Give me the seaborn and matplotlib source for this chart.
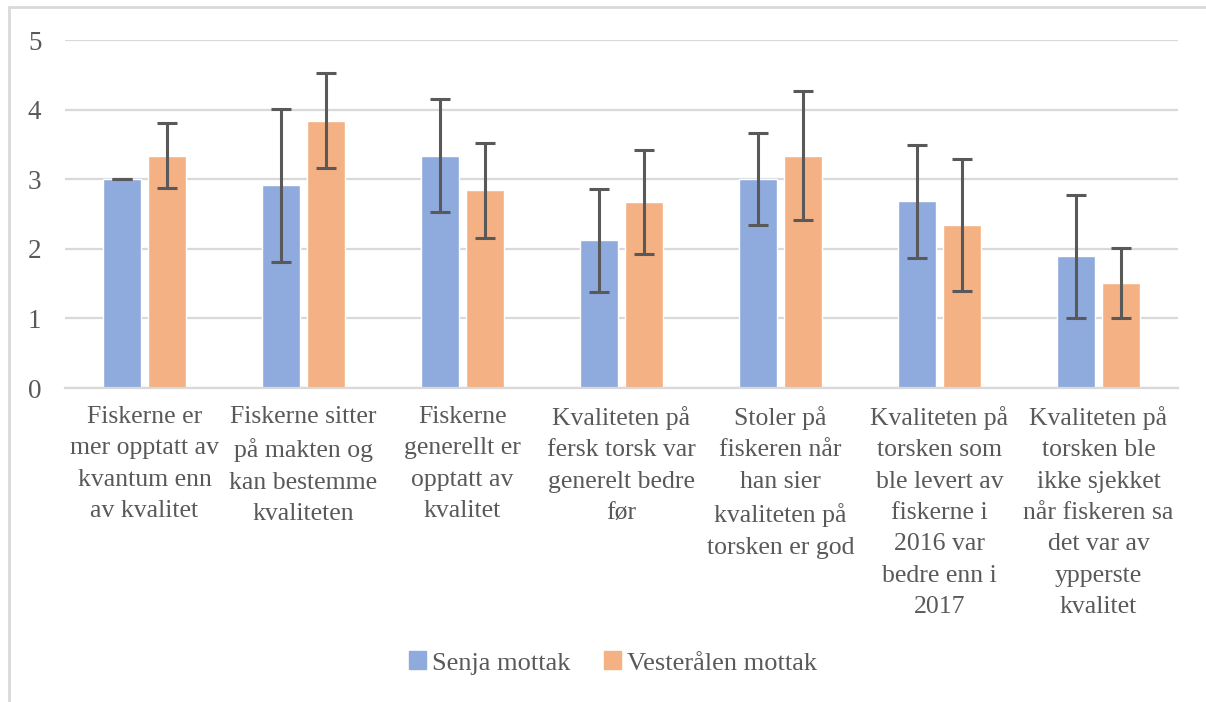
import numpy as np
import pandas as pd
import seaborn as sns
import matplotlib.pyplot as plt
from matplotlib.lines import Line2D

# Chart data
categories = [
    "Fiskerne er\nmer opptatt av\nkvantum enn\nav kvalitet",
    "Fiskerne sitter\npå makten og\nkan bestemme\nkvaliteten",
    "Fiskerne\ngenerellt er\nopptatt av\nkvalitet",
    "Kvaliteten på\nfersk torsk var\ngenerelt bedre\nfør",
    "Stoler på\nfiskeren når\nhan sier\nkvaliteten på\ntorsken er god",
    "Kvaliteten på\ntorsken som\nble levert av\nfiskerne i\n2016 var\nbedre enn i\n2017",
    "Kvaliteten på\ntorsken ble\nikke sjekket\nnår fiskeren sa\ndet var av\nypperste\nkvalitet",
]
series = ["Senja mottak", "Vesterålen mottak"]
senja_mean = [3.00, 2.91, 3.34, 2.12, 3.00, 2.68, 1.89]
senja_err = [0.00, 1.10, 0.81, 0.74, 0.66, 0.81, 0.88]
vest_mean = [3.34, 3.84, 2.84, 2.67, 3.34, 2.34, 1.51]
vest_err = [0.47, 0.68, 0.68, 0.75, 0.93, 0.95, 0.50]

colors = ["#8faadc", "#f4b183"]
grey_text = "#595959"
grid_col = "#d9d9d9"

df = pd.DataFrame({
    "cat": categories * 2,
    "series": [series[0]] * 7 + [series[1]] * 7,
    "mean": senja_mean + vest_mean,
    "err": senja_err + vest_err,
})

sns.set_style("white")
plt.rcParams["font.family"] = ["Liberation Serif", "DejaVu Serif"]

fig = plt.figure(figsize=(12.06, 7.02), dpi=100)
ax = fig.add_axes([65 / 1206, 1 - 388 / 702, (1178 - 65) / 1206, 348 / 702])

sns.barplot(data=df, x="cat", y="mean", hue="series", palette=colors,
            width=0.57, gap=0.16, errorbar=None, saturation=1,
            legend=False, ax=ax)

# error bars on top of each bar, in hue order
bars = [p for p in ax.patches if p.get_height() > 0]
xs = [b.get_x() + b.get_width() / 2 for b in bars]
hs = [b.get_height() for b in bars]
ax.errorbar(xs, hs, yerr=senja_err + vest_err, fmt="none", ecolor=grey_text,
            elinewidth=2.2, capsize=7, capthick=2.2, zorder=5)

ax.set_ylim(0, 5)
ax.set_xlim(-0.5, 6.5)
ax.set_yticks(range(6))
ax.yaxis.grid(True, color=grid_col, linewidth=1.6)
ax.set_axisbelow(True)
for s in ["top", "right", "left"]:
    ax.spines[s].set_visible(False)
ax.spines["bottom"].set_color(grid_col)
ax.spines["bottom"].set_linewidth(1.6)
ax.tick_params(axis="both", length=0, colors=grey_text, labelsize=18.5)
ax.tick_params(axis="y", pad=17, labelsize=19.5)
ax.tick_params(axis="x", pad=13)
for lbl in ax.get_xticklabels():
    lbl.set_linespacing(1.55)
    lbl.set_verticalalignment("top")
ax.set_xlabel("")
ax.set_ylabel("")

handles = [plt.Rectangle((0, 0), 1, 1, color=c) for c in colors]
fig.legend(handles, series, loc="center",
           bbox_to_anchor=(613 / 1206, 1 - 663 / 702),
           ncol=2, frameon=False, fontsize=19, labelcolor=grey_text,
           handlelength=0.65, handleheight=0.65, handletextpad=0.25,
           columnspacing=1.25)

# outer frame (left and top edges)
fig.add_artist(Line2D([9 / 1206, 9 / 1206], [0, 1 - 7 / 702], color=grid_col,
                      linewidth=2, transform=fig.transFigure))
fig.add_artist(Line2D([9 / 1206, 1], [1 - 7 / 702, 1 - 7 / 702], color=grid_col,
                      linewidth=2, transform=fig.transFigure))

fig.savefig("out.png", dpi=100, facecolor="white")
